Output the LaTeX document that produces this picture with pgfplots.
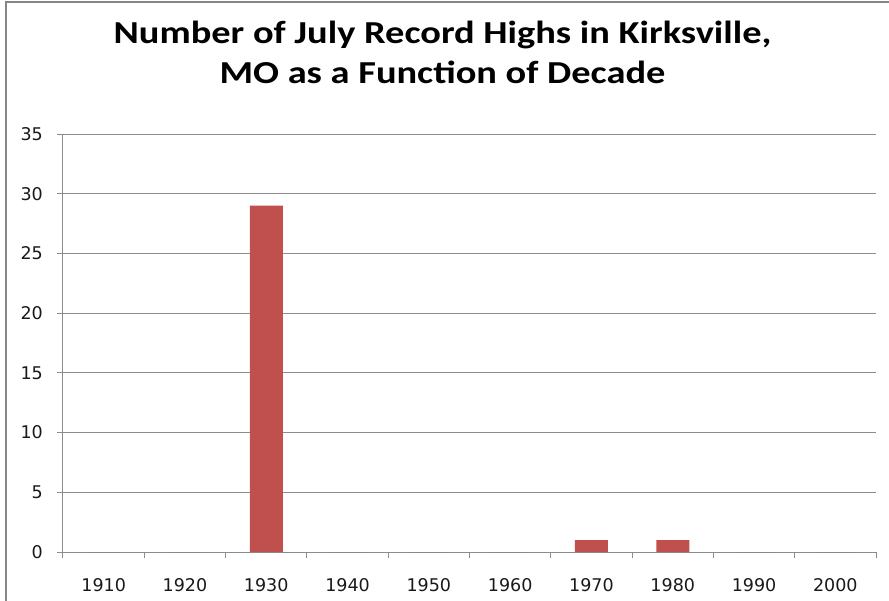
\documentclass[border=0pt]{standalone}
\usepackage{pgfplots}
\pgfplotsset{compat=1.18}
\usepackage{fontspec}
\setmainfont{DejaVu Sans}
\newfontfamily\titlefont[FakeStretch=1.2]{Carlito}
\definecolor{barred}{HTML}{C0504D}
\definecolor{gridgray}{HTML}{8C8C8C}
\definecolor{framegray}{HTML}{868686}
\begin{document}
\begin{tikzpicture}
\useasboundingbox (-63pt,-48pt) rectangle (826pt,552pt);
\begin{axis}[
    at={(0,0)}, anchor=south west,
    scale only axis,
    width=813pt, height=418pt,
    ybar, bar width=33pt,
    xmin=-0.5, xmax=9.5,
    ymin=0, ymax=35,
    xtick={0,...,9},
    xticklabels={1910,1920,1930,1940,1950,1960,1970,1980,1990,2000},
    minor xtick={-0.5,0.5,...,9.5},
    ytick={0,5,...,35},
    axis lines=left,
    axis line style={-, draw=gridgray, line width=1pt},
    ymajorgrids,
    grid style={draw=gridgray, line width=1pt},
    tick align=outside,
    major tick length=6pt, minor tick length=6pt,
    major x tick style={draw=none},
    tick style={draw=gridgray, line width=1pt},
    /pgf/number format/assume math mode=true,
    tick label style={font=\fontsize{17.5}{20}\selectfont, text=black!90},
    xticklabel style={anchor=north, inner sep=0pt, yshift=-20pt},
    yticklabel style={anchor=east, inner sep=0pt, xshift=-14pt},
    clip=false,
]
\addplot[fill=barred, draw=none] coordinates {
    (0,0) (1,0) (2,29) (3,0) (4,0) (5,0) (6,1) (7,1) (8,0) (9,0)};
\end{axis}
\draw[framegray, line width=2pt] (-57pt,-60pt) -- (-57pt,550pt) -- (840pt,550pt);
\node[anchor=base, inner sep=0pt, font=\titlefont\bfseries\fontsize{32}{40}\selectfont]
    at (379.5pt,508pt) {Number of July Record Highs in Kirksville,};
\node[anchor=base, inner sep=0pt, font=\titlefont\bfseries\fontsize{32}{40}\selectfont]
    at (379.5pt,468pt) {MO as a Function of Decade};
\end{tikzpicture}
\end{document}
